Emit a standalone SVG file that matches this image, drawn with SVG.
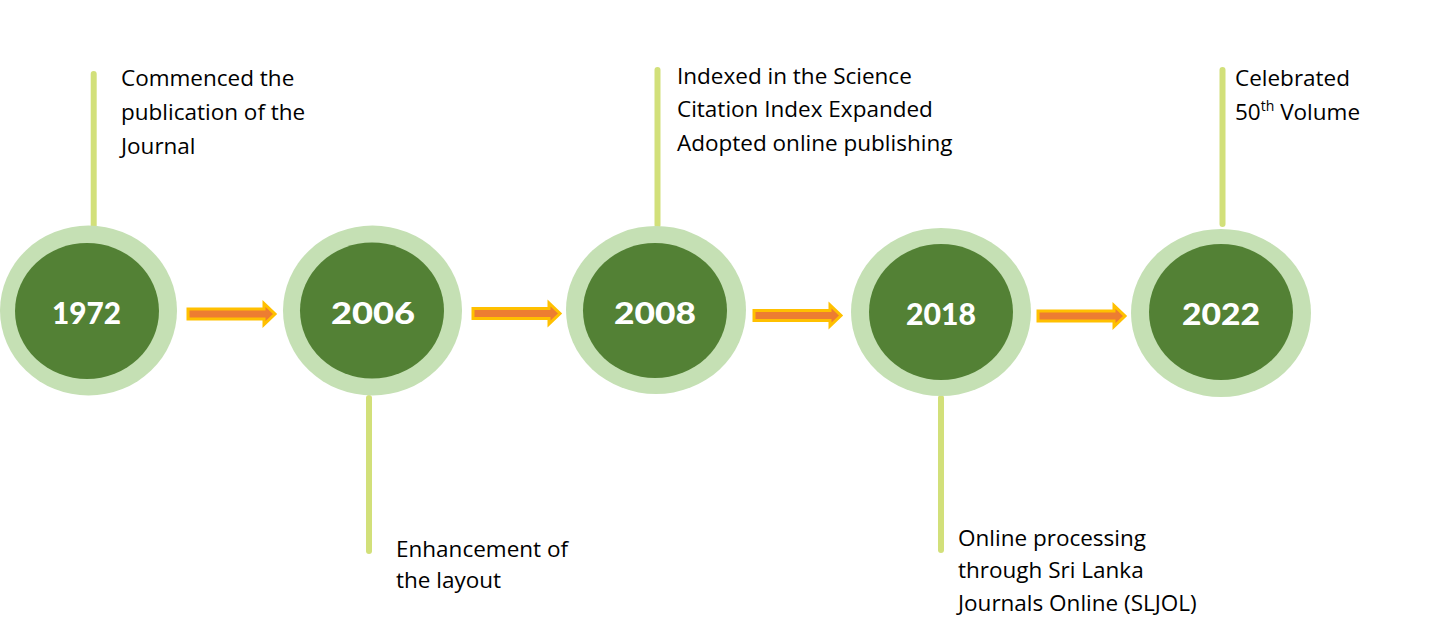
<svg xmlns="http://www.w3.org/2000/svg" width="1431" height="625" viewBox="0 0 1431 625">
<style>
.outer{fill:#c5e0b4}
.inner{fill:#538135}
.year{font-family:Lato,"Open Sans",sans-serif;font-weight:900;font-size:30px;fill:#ffffff;text-anchor:middle}
.stem{stroke:#d2e07a;stroke-width:6;stroke-linecap:round;fill:none}
.lbl{font-family:"Open Sans","Liberation Sans",sans-serif;font-size:22.5px;fill:#000000}
.sup{font-size:14px}
.arrow{fill:#ed7d31;stroke:#ffc000;stroke-width:3;stroke-linejoin:miter}
</style>
<defs>
<polygon id="arr" class="arrow" points="0,-5 76,-5 76,-10.5 87,0 76,10.5 76,5 0,5"/>
</defs>
<rect width="1431" height="625" fill="#ffffff"/>
<g id="connectors">
<use href="#arr" transform="translate(188,314)"/>
<use href="#arr" transform="translate(473,313.5)"/>
<use href="#arr" transform="translate(754,315.5)"/>
<use href="#arr" transform="translate(1038,316)"/>
</g>
<g id="n1972">
<line class="stem" x1="93.7" y1="74" x2="93.7" y2="228"/>
<ellipse class="outer" cx="88.5" cy="310.5" rx="88.5" ry="85"/>
<ellipse class="inner" cx="87" cy="311" rx="72" ry="68"/>
<text class="year" x="86.5" y="324" textLength="69" lengthAdjust="spacingAndGlyphs">1972</text>
<text class="lbl" x="121"><tspan x="121" y="86">Commenced the</tspan><tspan x="121" y="120">publication of the</tspan><tspan x="121" y="154">Journal</tspan></text>
</g>
<g id="n2006">
<line class="stem" x1="369" y1="398" x2="369" y2="551"/>
<ellipse class="outer" cx="372.5" cy="310.5" rx="89.5" ry="85"/>
<ellipse class="inner" cx="372" cy="310.5" rx="72" ry="68"/>
<text class="year" x="373" y="324" textLength="84" lengthAdjust="spacingAndGlyphs">2006</text>
<text class="lbl"><tspan x="396" y="557">Enhancement of</tspan><tspan x="396" y="588">the layout</tspan></text>
</g>
<g id="n2008">
<line class="stem" x1="657.5" y1="70" x2="657.5" y2="225"/>
<ellipse class="outer" cx="656" cy="310" rx="90" ry="84"/>
<ellipse class="inner" cx="655" cy="310.5" rx="72" ry="67.5"/>
<text class="year" x="655" y="324" textLength="82" lengthAdjust="spacingAndGlyphs">2008</text>
<text class="lbl"><tspan x="677" y="84">Indexed in the Science</tspan><tspan x="677" y="117">Citation Index Expanded</tspan><tspan x="677" y="151">Adopted online publishing</tspan></text>
</g>
<g id="n2018">
<line class="stem" x1="941" y1="398" x2="941" y2="550"/>
<ellipse class="outer" cx="941" cy="312" rx="90" ry="84"/>
<ellipse class="inner" cx="941" cy="312" rx="72" ry="68"/>
<text class="year" x="941" y="325" textLength="70" lengthAdjust="spacingAndGlyphs">2018</text>
<text class="lbl"><tspan x="958" y="546">Online processing</tspan><tspan x="958" y="578">through Sri Lanka</tspan><tspan x="958" y="611">Journals Online (SLJOL)</tspan></text>
</g>
<g id="n2022">
<line class="stem" x1="1222.5" y1="70" x2="1222.5" y2="224"/>
<ellipse class="outer" cx="1221" cy="313" rx="90" ry="84"/>
<ellipse class="inner" cx="1221" cy="312" rx="72" ry="68"/>
<text class="year" x="1221" y="325" textLength="78" lengthAdjust="spacingAndGlyphs">2022</text>
<text class="lbl"><tspan x="1235" y="86">Celebrated</tspan><tspan x="1235" y="120">50</tspan><tspan class="sup" dy="-9">th</tspan><tspan dy="9"> Volume</tspan></text>
</g>
</svg>
